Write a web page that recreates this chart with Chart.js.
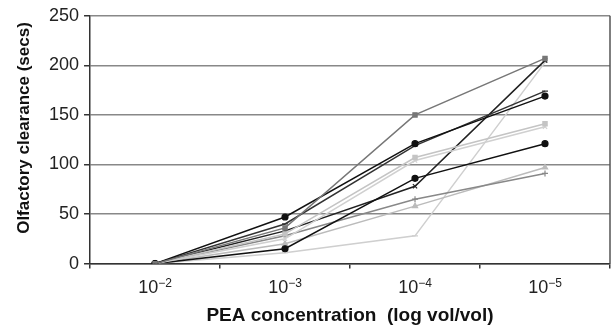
<!DOCTYPE html>
<html>
<head>
<meta charset="utf-8">
<script src="https://cdn.jsdelivr.net/npm/chart.js@4"></script>
<style>
  body { margin: 0; background: #fff; }
  #wrap { width: 611px; height: 329px; }
</style>
</head>
<body>
<div id="wrap"><canvas id="myChart"></canvas></div>
<script>
// concentration categories (base and exponent)
const labels = ["10-2", "10-3", "10-4", "10-5"];
const exps = ["\u22122", "\u22123", "\u22124", "\u22125"];

// clearance times (secs) per subject
const s1 = [0, 36, 150, 207];
const s2 = [0, 47, 121, 169];
const s3 = [0, 40, 119, 174];
const s4 = [0, 30, 107, 141];
const s5 = [0, 25, 104, 138];
const s6 = [0, 15, 86, 121];
const s7 = [0, 33, 78, 205];
const s8 = [0, 28, 65, 91];
const s9 = [0, 20, 58, 97];
const s10 = [0, 11, 28, 203];

const yTicks = [0, 50, 100, 150, 200, 250];
const yTitle = 'Olfactory clearance (secs)';

function ds(data, color, style) {
    return {
        data: data,
        borderColor: color,
        backgroundColor: color,
        borderWidth: 1.5,
        pointStyle: style,
        pointRadius: 3,
        pointBorderWidth: 1.2,
        tension: 0
    };
}

// right frame line, y title, x labels with superscript exponents
const extras = {
    id: 'extras',
    afterDraw(chart) {
        const a = chart.chartArea, c = chart.ctx;
        const xs = chart.scales.x;
        c.save();
        c.strokeStyle = '#555';
        c.lineWidth = 1.5;
        c.beginPath();
        c.moveTo(a.right, a.top);
        c.lineTo(a.right, a.bottom);
        c.stroke();

        c.fillStyle = '#111';
        c.save();
        c.translate(24, 128);
        c.rotate(-Math.PI / 2);
        c.font = 'bold 17px "Liberation Sans"';
        c.textAlign = 'center';
        c.textBaseline = 'middle';
        c.fillText(yTitle, 0, 0);
        c.restore();

        c.fillStyle = '#222';
        c.textBaseline = 'alphabetic';
        for (let i in labels) {
            const x = xs.getPixelForValue(Number(i));
            c.font = '18px "Liberation Sans"';
            const w1 = c.measureText('10').width;
            c.font = '12px "Liberation Sans"';
            const w2 = c.measureText(exps[i]).width;
            const x0 = x - (w1 + w2) / 2;
            const y = a.bottom + 29;
            c.font = '18px "Liberation Sans"';
            c.textAlign = 'left';
            c.fillText('10', x0, y);
            c.font = '12px "Liberation Sans"';
            c.fillText(exps[i], x0 + w1, y - 6);
        }
        c.restore();
    }
};

new Chart(document.getElementById('myChart'), {
    type: 'line',
    data: {
        labels: labels,
        datasets: [
            ds(s1, '#777', 'rect'),
            ds(s2, '#111', 'circle'),
            ds(s3, '#333', 'line'),
            ds(s4, '#c4c4c4', 'rect'),
            ds(s5, '#d0d0d0', 'crossRot'),
            ds(s6, '#111', 'circle'),
            ds(s7, '#222', 'crossRot'),
            ds(s8, '#888', 'cross'),
            ds(s9, '#bbb', 'triangle'),
            ds(s10, '#cfcfcf', 'line')
        ]
    },
    options: {
        responsive: true,
        maintainAspectRatio: false,
        animation: false,
        layout: { autoPadding: false, padding: { top: 8, right: 1, left: 44, bottom: 2 } },
        plugins: {
            legend: { display: false },
            tooltip: { enabled: false }
        },
        scales: {
            x: {
                offset: true,
                grid: {
                    offset: true,
                    drawOnChartArea: false,
                    tickLength: 5,
                    color: '#333',
                    lineWidth: 1.5
                },
                border: { color: '#333', width: 1.5 },
                ticks: {
                    color: 'rgba(0,0,0,0)',
                    font: { family: 'Liberation Sans', size: 18 },
                    padding: 3
                },
                title: {
                    display: true,
                    text: 'PEA concentration  (log vol/vol)',
                    color: '#111',
                    font: { family: 'Liberation Sans', size: 19, weight: 'bold' },
                    padding: { top: 8, bottom: 0 }
                }
            },
            y: {
                min: 0,
                max: 250,
                afterBuildTicks: axis => { axis.ticks = yTicks.map(v => ({ value: v })); },
                grid: {
                    color: '#888',
                    lineWidth: 1.5,
                    tickLength: 6,
                    tickColor: '#333'
                },
                border: { color: '#333', width: 1.5 },
                ticks: {
                    color: '#222',
                    font: { family: 'Liberation Sans', size: 18 },
                    padding: 5
                },
                title: { display: false }
            }
        }
    },
    plugins: [extras]
});
</script>
</body>
</html>
